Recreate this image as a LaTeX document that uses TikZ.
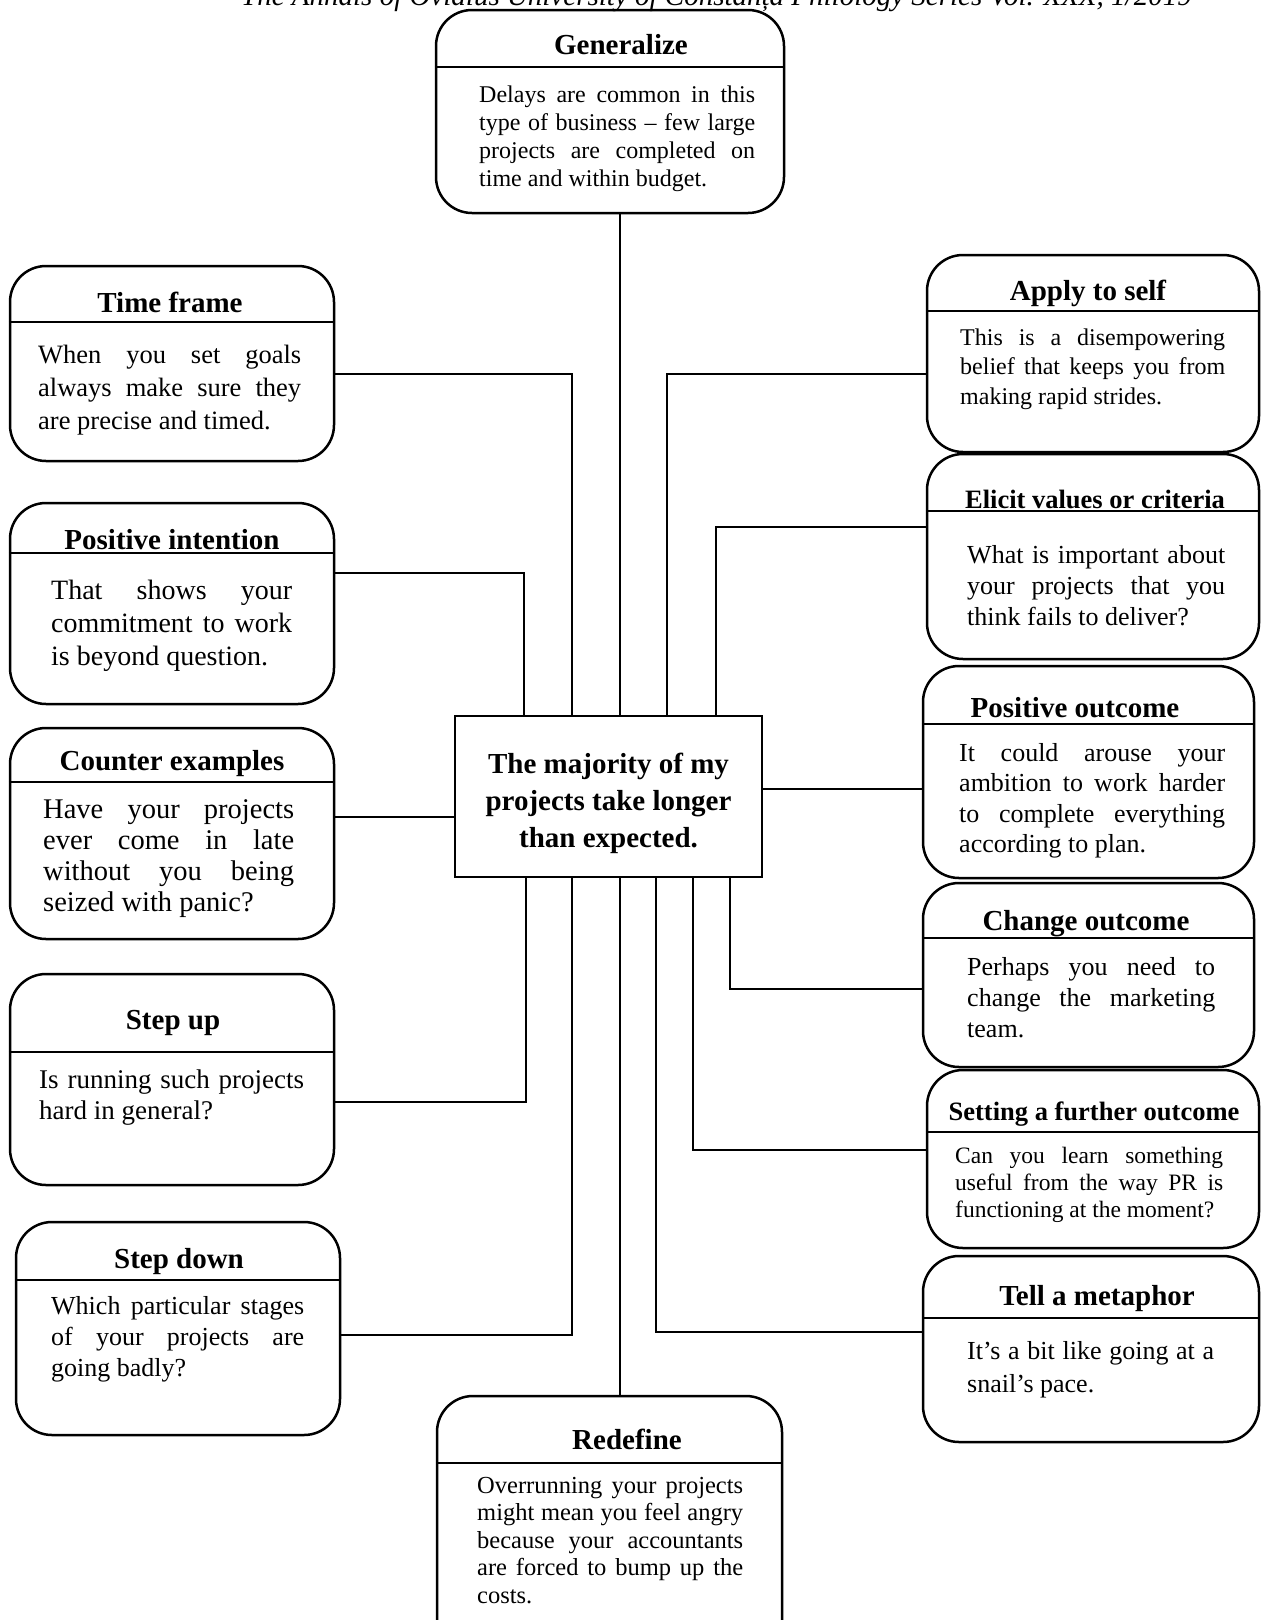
\documentclass[tikz,border=0pt]{standalone}
\usepackage{fontspec}
\setmainfont{Liberation Serif}
\usetikzlibrary{positioning}

\begin{document}
\begin{tikzpicture}[x=1pt, y=-1pt,
  idea/.style={draw, rounded corners=36pt, line width=2.5pt, inner sep=0pt},
  core/.style={draw, line width=2.5pt, inner sep=0pt},
  belief/.style={inner sep=0pt, align=center, font=\bfseries\fontsize{29}{37}\selectfont},
  head/.style={anchor=base, inner sep=0pt, font=\bfseries\fontsize{29}{35}\selectfont},
  smallhead/.style={head, font=\bfseries\fontsize{26.5}{32}\selectfont},
  body/.style n args={3}{anchor=base west, inner sep=0pt, text width=#1,
    align=justify, font=\fontsize{#2}{#3}\selectfont},
  divider/.style={line width=2pt},
  branch/.style={line width=2pt}]
  \useasboundingbox (0,0) rectangle (1261,1620);

  % running head, cut by the page edge
  \node[anchor=base west, inner sep=0pt, font=\itshape\fontsize{29}{33}\selectfont]
    (runhead) at (241,5) {The Annals of Ovidius University of Constanța Philology Series Vol. XXX, 1/2019};

  % the belief in the middle
  \node[core, minimum width=307, minimum height=161] (core) at (608.5,796.5) {};
  \node[belief] (core-t) at (608.5,803)
    {The majority of my\\projects take longer\\than expected.};

  % boxes
  \node[idea, minimum width=348, minimum height=203] (gen) at (610,111.5) {};
  \node[idea, minimum width=324, minimum height=195] (tf)  at (172,363.5) {};
  \node[idea, minimum width=324, minimum height=201] (pi)  at (172,603.5) {};
  \node[idea, minimum width=324, minimum height=211] (ce)  at (172,833.5) {};
  \node[idea, minimum width=324, minimum height=211] (su)  at (172,1079.5) {};
  \node[idea, minimum width=324, minimum height=213] (sd)  at (178,1328.5) {};
  \node[idea, minimum width=345, minimum height=264] (rd)  at (609.5,1528) {};
  \node[idea, minimum width=332, minimum height=197] (as)  at (1093,353.5) {};
  \node[idea, minimum width=332, minimum height=205] (ev)  at (1093,556.5) {};
  \node[idea, minimum width=331, minimum height=212] (po)  at (1088.5,772) {};
  \node[idea, minimum width=331, minimum height=184] (co)  at (1088.5,975) {};
  \node[idea, minimum width=332, minimum height=178] (sfo) at (1093,1159) {};
  \node[idea, minimum width=336, minimum height=186] (tm)  at (1091,1349) {};

  % title rules
  \foreach \boxname/\y in {gen/67, tf/322, pi/553, ce/782, su/1052, sd/1280, rd/1463,
                       as/311, ev/511, po/724, co/938, sfo/1132, tm/1318}
    \draw[divider] (\boxname.west |- 0,\y) -- (\boxname.east |- 0,\y);

  % titles
  \node[head] (gen-h) at (621,54)   {Generalize};
  \node[head] (tf-h)  at (170,312)  {Time frame};
  \node[head] (pi-h)  at (172,549)  {Positive intention};
  \node[head] (ce-h)  at (172,770)  {Counter examples};
  \node[head] (su-h)  at (173,1029) {Step up};
  \node[head] (sd-h)  at (179,1268) {Step down};
  \node[head] (rd-h)  at (627,1449) {Redefine};
  \node[head] (as-h)  at (1088,300) {Apply to self};
  \node[smallhead] (ev-h) at (1095,508) {Elicit values or criteria};
  \node[head] (po-h)  at (1075,717) {Positive outcome};
  \node[head] (co-h)  at (1086,930) {Change outcome};
  \node[smallhead] (sfo-h) at (1094,1120) {Setting a further outcome};
  \node[head] (tm-h)  at (1097,1305) {Tell a metaphor};

  % texts
  \node[body={276pt}{24}{28}] (gen-t) at (479,102)
    {Delays are common in this\linebreak type of business – few large\linebreak projects are completed on\linebreak time and within budget.};
  \node[body={263pt}{26.5}{33}] (tf-t) at (38,363)
    {When you set goals\linebreak always make sure they\linebreak are precise and timed.};
  \node[body={241pt}{28}{33}] (pi-t) at (51,599)
    {That shows your\linebreak commitment to work\linebreak is beyond question.};
  \node[body={251pt}{28.5}{31}] (ce-t) at (43,818)
    {Have your projects\linebreak ever come in late\linebreak without you being\linebreak seized with panic?};
  \node[body={265pt}{27}{31}] (su-t) at (39,1088)
    {Is running such projects\linebreak hard in general?};
  \node[body={253pt}{26}{31}] (sd-t) at (51,1314)
    {Which particular stages\linebreak of your projects are\linebreak going badly?};
  \node[body={266pt}{24.5}{27.6}] (rd-t) at (477,1493)
    {Overrunning your projects\linebreak might mean you feel angry\linebreak because your accountants\linebreak are forced to bump up the\linebreak costs.};
  \node[body={265pt}{24}{29.5}] (as-t) at (960,345)
    {This is a disempowering\linebreak belief that keeps you from\linebreak making rapid strides.};
  \node[body={258pt}{26}{31}] (ev-t) at (967,563)
    {What is important about\linebreak your projects that you\linebreak think fails to deliver?};
  \node[body={266pt}{26}{30.5}] (po-t) at (959,761)
    {It could arouse your\linebreak ambition to work harder\linebreak to complete everything\linebreak according to plan.};
  \node[body={248pt}{26}{31}] (co-t) at (967,975)
    {Perhaps you need to\linebreak change the marketing\linebreak team.};
  \node[body={268pt}{23.5}{27}] (sfo-t) at (955,1163)
    {Can you learn something\linebreak useful from the way PR is\linebreak functioning at the moment?};
  \node[body={247pt}{26}{33}] (tm-t) at (967,1359)
    {It’s a bit like going at a\linebreak snail’s pace.};

  % branches from the belief
  \draw[branch] (core.north -| 572,0) |- (tf.east |- 0,374);
  \draw[branch] (core.north -| 524,0) |- (pi.east |- 0,573);
  \draw[branch] (core.north -| 620,0) -- (gen.south -| 620,0);
  \draw[branch] (core.north -| 667,0) |- (as.west |- 0,374);
  \draw[branch] (core.north -| 716,0) |- (ev.west |- 0,527);
  \draw[branch] (core.west |- 0,817) -- (ce.east |- 0,817);
  \draw[branch] (core.east |- 0,789) -- (po.west |- 0,789);
  \draw[branch] (core.south -| 526,0) |- (su.east |- 0,1102);
  \draw[branch] (core.south -| 572,0) |- (sd.east |- 0,1335);
  \draw[branch] (core.south -| 620,0) -- (rd.north -| 620,0);
  \draw[branch] (core.south -| 656,0) |- (tm.west |- 0,1332);
  \draw[branch] (core.south -| 693,0) |- (sfo.west |- 0,1150);
  \draw[branch] (core.south -| 730,0) |- (co.west |- 0,989);
\end{tikzpicture}
\end{document}
